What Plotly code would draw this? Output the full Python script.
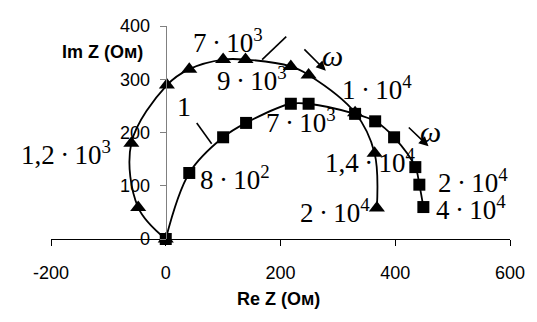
import plotly.graph_objects as go

# Impedance hodographs (Nyquist plots), Re Z vs Im Z in Ohm
re_1 = [0, 41, 100, 140, 218, 249, 330, 365, 398, 435, 442, 449]
im_1 = [0, 124, 191, 218, 254, 254, 235, 221, 191, 135, 102, 60]

re_2 = [0, -48, -60, 2, 41, 100, 139, 218, 249, 330, 364, 368]
im_2 = [0, 59, 180, 289, 319, 337, 337, 324, 308, 237, 161, 58]

# frequency labels (text, position in data coordinates)
freq_text = ["7\u2009·\u200910<sup>3</sup>", "9\u2009·\u200910<sup>3</sup>",
             "1\u2009·\u200910<sup>4</sup>", "7\u2009·\u200910<sup>3</sup>",
             "1,2\u2009·\u200910<sup>3</sup>", "8\u2009·\u200910<sup>2</sup>",
             "1,4\u2009·\u200910<sup>4</sup>", "2\u2009·\u200910<sup>4</sup>",
             "2\u2009·\u200910<sup>4</sup>", "4\u2009·\u200910<sup>4</sup>"]
freq_x = [109, 150, 368, 236, -174, 120, 356, 295, 535, 532]
freq_y = [372, 300, 284, 222, 162, 115, 147, 53, 109, 59]

x_ticks = [-200, 0, 200, 400, 600]
x_ticktext = ["-200", "0", "200", "400", "600"]
y_ticks = [0, 100, 200, 300, 400]

SERIF = "Liberation Serif"
SANS = "Liberation Sans"

fig = go.Figure()
fig.add_trace(go.Scatter(
    x=re_2, y=im_2, mode="lines+markers",
    line=dict(color="black", width=1.8, shape="spline", smoothing=1.0),
    marker=dict(symbol="triangle-up", size=14, color="black"),
    cliponaxis=False, showlegend=False))
fig.add_trace(go.Scatter(
    x=re_1, y=im_1, mode="lines+markers",
    line=dict(color="black", width=1.8, shape="spline", smoothing=1.0),
    marker=dict(symbol="square", size=12, color="black"),
    cliponaxis=False, showlegend=False))

annotations = []
for t, x, y in zip(freq_text, freq_x, freq_y):
    annotations.append(dict(x=x, y=y, xref="x", yref="y", text=t, showarrow=False,
                            font=dict(family=SERIF, size=27, color="black")))

# curve numbers with leader lines
annotations.append(dict(x=216, y=405, xref="x", yref="y", text="2", showarrow=False,
                        font=dict(family=SERIF, size=28, color="black")))
annotations.append(dict(x=31, y=248, xref="x", yref="y", text="1", showarrow=False,
                        font=dict(family=SERIF, size=28, color="black")))

# direction of increasing frequency
annotations.append(dict(x=290, y=345, xref="x", yref="y", text="<i>ω</i>", showarrow=False,
                        font=dict(family=SERIF, size=30, color="black")))
annotations.append(dict(x=462, y=201, xref="x", yref="y", text="<i>ω</i>", showarrow=False,
                        font=dict(family=SERIF, size=30, color="black")))
for (hx, hy, tx, ty) in [(279, 316, 239, 359), (458, 174, 421, 212)]:
    annotations.append(dict(x=hx, y=hy, ax=tx, ay=ty, xref="x", yref="y",
                            axref="x", ayref="y", text="", showarrow=True,
                            arrowhead=2, arrowsize=1.2, arrowwidth=1.6,
                            arrowcolor="black", standoff=0))

shapes = [
    dict(type="line", xref="x", yref="y", x0=210, y0=380, x1=168, y1=337,
         line=dict(color="black", width=1.6)),
    dict(type="line", xref="x", yref="y", x0=54, y0=218, x1=80, y1=179,
         line=dict(color="black", width=1.6)),
]

W, H = 537, 322
ml, mr, mt, mb = 51, 17, 26, 83
pw, ph = W - ml - mr, H - mt - mb

# axis titles, placed by pixel position converted to paper fractions
annotations.append(dict(x=(60 - ml) / pw, y=(H - mb - 40) / ph, xref="paper", yref="paper",
                        text="<b>Im Z (Ом)</b>", showarrow=False,
                        font=dict(family=SANS, size=18, color="black")))
annotations.append(dict(x=(283 - ml) / pw, y=(H - mb - 311) / ph, xref="paper", yref="paper",
                        text="<b>Re Z (Ом)</b>", showarrow=False,
                        font=dict(family=SANS, size=18, color="black")))

fig.update_layout(
    width=W, height=H,
    margin=dict(l=ml, r=mr, t=mt, b=mb),
    paper_bgcolor="white", plot_bgcolor="white",
    annotations=annotations, shapes=shapes,
    xaxis=dict(range=[-200, 600], tickvals=x_ticks, ticktext=x_ticktext,
               ticks="outside", ticklen=6,
               tickcolor="black", showline=True, linecolor="black", linewidth=1.2,
               showgrid=False, zeroline=False, ticklabelstandoff=11,
               tickfont=dict(family=SANS, size=18, color="black")),
    yaxis=dict(range=[0, 400], tickvals=y_ticks, ticks="outside", ticklen=6,
               tickcolor="#808080", showline=True, linecolor="#808080", linewidth=1.2,
               showgrid=False, zeroline=False, anchor="free", position=0.25,
               ticklabelstandoff=6,
               tickfont=dict(family=SANS, size=18, color="black")),
)

fig.write_html("out.html")
